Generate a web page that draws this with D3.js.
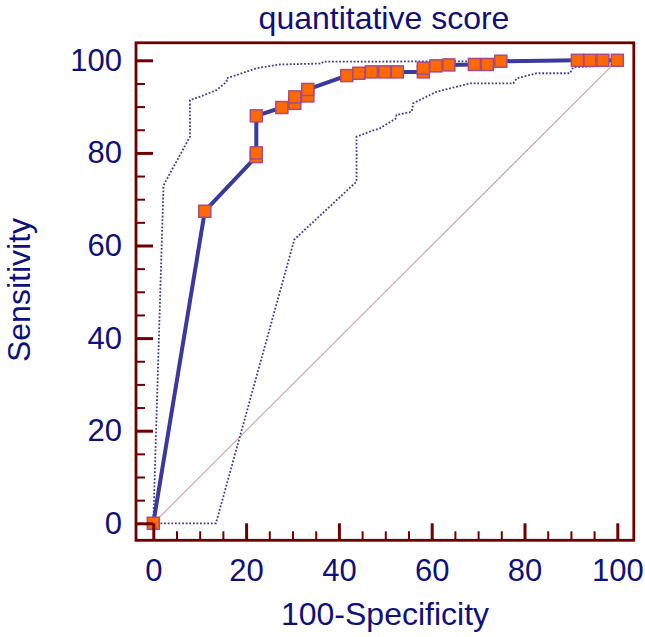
<!DOCTYPE html>
<html>
<head>
<meta charset="utf-8">
<script src="https://cdn.jsdelivr.net/npm/d3@7"></script>
<style>
  body { margin: 0; background: #fff; }
  text { font-family: "Liberation Sans", Arial, sans-serif; fill: #10107a; }
</style>
</head>
<body>
<div id="chart"></div>
<script>
// ROC points (100-Specificity, Sensitivity)
var rocX = [0, 11.1, 22.2, 22.2, 22.2, 27.7, 30.5, 30.5, 33.3, 33.3, 41.7, 44.3, 47.0, 49.9, 52.6, 58.2, 58.2, 60.9, 63.7, 69.2, 72.0, 74.9, 91.4, 94.1, 96.9, 100];
var rocY = [0, 67.4, 79.2, 80.0, 88.0, 89.8, 90.7, 92.1, 92.3, 93.7, 96.7, 97.2, 97.5, 97.5, 97.5, 97.5, 98.3, 98.8, 99.0, 99.1, 99.1, 99.8, 100, 100, 100, 100];

// upper confidence bound
var upperX = [0, 2.2, 7.9, 7.9, 10.5, 13.7, 15.8, 15.8, 22.3, 27.3, 36.3, 36.6, 74.0, 75.0, 100];
var upperY = [0, 73.0, 83.5, 91.4, 92.3, 93.6, 95.4, 96.1, 98.3, 99.1, 99.3, 99.7, 99.8, 100, 100];

// lower confidence bound
var lowerX = [0, 13.5, 30.4, 43.8, 43.8, 46.7, 48.8, 52.4, 52.4, 55.7, 56.0, 61.0, 68.2, 77.6, 78.3, 82.6, 89.8, 90.5, 100];
var lowerY = [0, 0, 61.3, 73.8, 83.5, 84.6, 85.3, 87.5, 88.2, 88.9, 90.7, 93.2, 95.0, 95.0, 96.1, 97.2, 97.2, 98.5, 98.9];

var majorTicks = [0, 20, 40, 60, 80, 100];
var minorTicks = d3.range(0, 101, 5).filter(d => d % 20 !== 0);

var W = 645, H = 637;
var frame = {left: 136, right: 633.8, top: 42.8, bottom: 540.3};

var svg = d3.select("#chart").append("svg")
    .attr("width", W)
    .attr("height", H);

var x = d3.scaleLinear().domain([0, 100]).range([153.3, 617.3]);
var y = d3.scaleLinear().domain([0, 100]).range([523.3, 60.3]);

var maroon = "#6e0000";

// diagonal reference line
svg.append("line")
    .attr("x1", x(0)).attr("y1", y(0))
    .attr("x2", x(100)).attr("y2", y(100))
    .attr("stroke", "#c9a3a3")
    .attr("stroke-width", 1.1);

// confidence bounds
var line = d3.line().x(d => x(d[0])).y(d => y(d[1]));
[[upperX, upperY], [lowerX, lowerY]].forEach(function(b) {
    svg.append("path")
        .datum(d3.zip(b[0], b[1]))
        .attr("d", line)
        .attr("fill", "none")
        .attr("stroke", "#3c3c98")
        .attr("stroke-width", 1.8)
        .attr("stroke-dasharray", "1.8,1.8");
});

// ROC curve
var rocData = d3.zip(rocX, rocY);
svg.append("path")
    .datum(rocData)
    .attr("d", line)
    .attr("fill", "none")
    .attr("stroke", "#3a3a9e")
    .attr("stroke-width", 4)
    .attr("stroke-linejoin", "round");

var s = 12;
svg.selectAll("rect.pt")
    .data(rocData)
    .enter()
    .append("rect")
    .attr("class", "pt")
    .attr("x", d => x(d[0]) - s / 2)
    .attr("y", d => y(d[1]) - s / 2)
    .attr("width", s)
    .attr("height", s)
    .attr("fill", "#ff6a00")
    .attr("stroke", "#a84a86")
    .attr("stroke-width", 1.5);

// frame
svg.append("rect")
    .attr("x", frame.left)
    .attr("y", frame.top)
    .attr("width", frame.right - frame.left)
    .attr("height", frame.bottom - frame.top)
    .attr("fill", "none")
    .attr("stroke", maroon)
    .attr("stroke-width", 2.8);

// axes: ticks point into the plot
var yMajor = svg.append("g").attr("transform", "translate(" + frame.left + ",0)")
    .call(d3.axisLeft(y).tickValues(majorTicks).tickSizeInner(-17).tickSizeOuter(0).tickPadding(14));
var yMinor = svg.append("g").attr("transform", "translate(" + frame.left + ",0)")
    .call(d3.axisLeft(y).tickValues(minorTicks).tickSizeInner(-9).tickSizeOuter(0).tickFormat(""));
var xMajor = svg.append("g").attr("transform", "translate(0," + frame.bottom + ")")
    .call(d3.axisBottom(x).tickValues(majorTicks).tickSizeInner(-17).tickSizeOuter(0).tickPadding(19));
var xMinor = svg.append("g").attr("transform", "translate(0," + frame.bottom + ")")
    .call(d3.axisBottom(x).tickValues(minorTicks).tickSizeInner(-9).tickSizeOuter(0).tickFormat(""));

[yMajor, yMinor, xMajor, xMinor].forEach(g => g.select(".domain").remove());
[yMajor, xMajor].forEach(g => g.selectAll("line").attr("stroke", maroon).attr("stroke-width", 3));
[yMinor, xMinor].forEach(g => g.selectAll("line").attr("stroke", maroon).attr("stroke-width", 2));
[yMajor, xMajor].forEach(g => g.selectAll("text")
    .attr("font-family", "Liberation Sans, Arial, sans-serif")
    .attr("font-size", 31)
    .attr("fill", "#10107a"));

// titles (kept just inside the page edges)
svg.append("text")
    .attr("x", 384).attr("y", 29)
    .attr("text-anchor", "middle")
    .attr("font-size", 32)
    .text("quantitative score");

svg.append("text")
    .attr("x", 385).attr("y", 625)
    .attr("text-anchor", "middle")
    .attr("font-size", 32)
    .text("100-Specificity");

svg.append("text")
    .attr("transform", "translate(29.5,290) rotate(-90)")
    .attr("text-anchor", "middle")
    .attr("font-size", 32)
    .text("Sensitivity");
</script>
</body>
</html>
